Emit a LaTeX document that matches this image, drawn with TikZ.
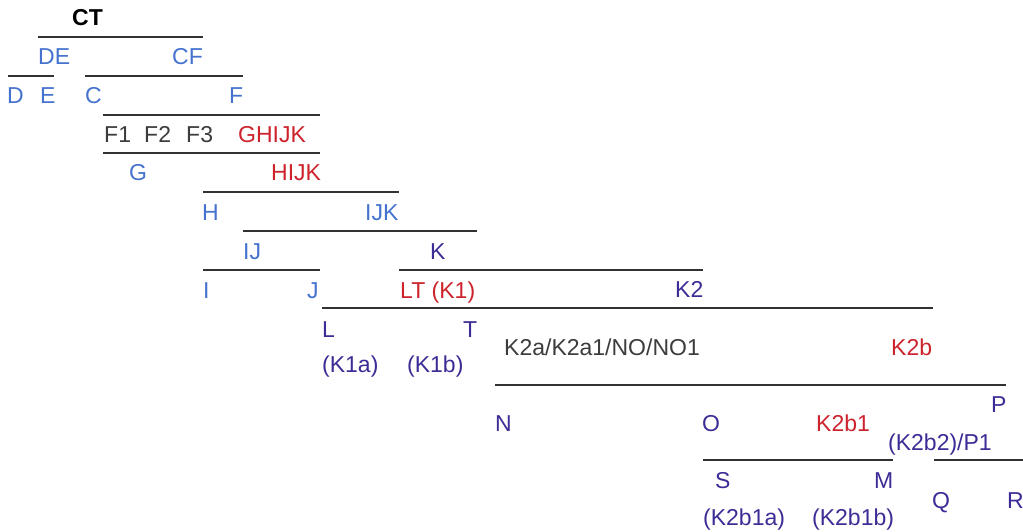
\documentclass[tikz,border=0pt]{standalone}
\usepackage{fontspec}
\setmainfont{Liberation Sans}
\definecolor{cblue}{RGB}{68,114,206}
\definecolor{cnavy}{RGB}{60,45,150}
\definecolor{cred}{RGB}{205,35,45}
\definecolor{cdark}{RGB}{60,60,60}
\definecolor{cbar}{RGB}{50,50,50}
\tikzset{
  lbl/.style={anchor=base west, inner sep=0pt, font=\fontsize{23}{27}\selectfont},
  bar/.style={draw=cbar, line width=2pt},
}
\begin{document}
\begin{tikzpicture}[x=1pt,y=-1pt]
\useasboundingbox[fill=white] (0,0) rectangle (1023,532);
% bars
\draw[bar] (38,37) -- (203,37);
\draw[bar] (8,76) -- (54,76);
\draw[bar] (85,76) -- (243,76);
\draw[bar] (103,115) -- (320,115);
\draw[bar] (103,153) -- (320,153);
\draw[bar] (203,192) -- (399,192);
\draw[bar] (243,231) -- (477,231);
\draw[bar] (203,270) -- (320,270);
\draw[bar] (399,270) -- (703,270);
\draw[bar] (322,308) -- (933,308);
\draw[bar] (495,385) -- (1006,385);
\draw[bar] (703,460) -- (893,460);
\draw[bar] (934,460) -- (1023,460);
% labels
\node[lbl, font=\fontsize{23}{27}\selectfont\bfseries, text=black] (CT) at (72,26) {CT};
\node[lbl, text=cblue] (DE) at (38,65) {DE};
\node[lbl, text=cblue] (CF) at (172,65) {CF};
\node[lbl, text=cblue] (D) at (7,104) {D};
\node[lbl, text=cblue] (E) at (40,104) {E};
\node[lbl, text=cblue] (C) at (85,104) {C};
\node[lbl, text=cblue] (F) at (229,104) {F};
\node[lbl, text=cdark] (F1) at (104,143) {F1};
\node[lbl, text=cdark] (F2) at (144,143) {F2};
\node[lbl, text=cdark] (F3) at (186,143) {F3};
\node[lbl, text=cred] (GHIJK) at (238,143) {GHIJK};
\node[lbl, text=cblue] (G) at (129,181) {G};
\node[lbl, text=cred] (HIJK) at (271,181) {HIJK};
\node[lbl, text=cblue] (H) at (202,220) {H};
\node[lbl, text=cblue] (IJK) at (365,220) {IJK};
\node[lbl, text=cblue] (IJ) at (243,259) {IJ};
\node[lbl, text=cnavy] (K) at (430,259) {K};
\node[lbl, text=cblue] (I) at (203,298) {I};
\node[lbl, text=cblue] (J) at (307,298) {J};
\node[lbl, text=cred] (LT) at (400,298) {LT (K1)};
\node[lbl, text=cnavy] (K2) at (675,297) {K2};
\node[lbl, text=cnavy] (L) at (322,337) {L};
\node[lbl, text=cnavy] (T) at (463,337) {T};
\node[lbl, text=cnavy] (K1a) at (322,372) {(K1a)};
\node[lbl, text=cnavy] (K1b) at (407,372) {(K1b)};
\node[lbl, text=cdark] (K2a) at (504,355) {K2a/K2a1/NO/NO1};
\node[lbl, text=cred] (K2b) at (891,355) {K2b};
\node[lbl, text=cnavy] (N) at (495,431) {N};
\node[lbl, text=cnavy] (O) at (702,431) {O};
\node[lbl, text=cred] (K2b1) at (816,431) {K2b1};
\node[lbl, text=cnavy] (P) at (991,412) {P};
\node[lbl, text=cnavy] (K2b2) at (888,450) {(K2b2)/P1};
\node[lbl, text=cnavy] (S) at (715,488) {S};
\node[lbl, text=cnavy] (M) at (874,488) {M};
\node[lbl, text=cnavy] (Q) at (932,508) {Q};
\node[lbl, text=cnavy] (R) at (1007,508) {R};
\node[lbl, text=cnavy] (K2b1a) at (703,525) {(K2b1a)};
\node[lbl, text=cnavy] (K2b1b) at (812,525) {(K2b1b)};
\end{tikzpicture}
\end{document}
